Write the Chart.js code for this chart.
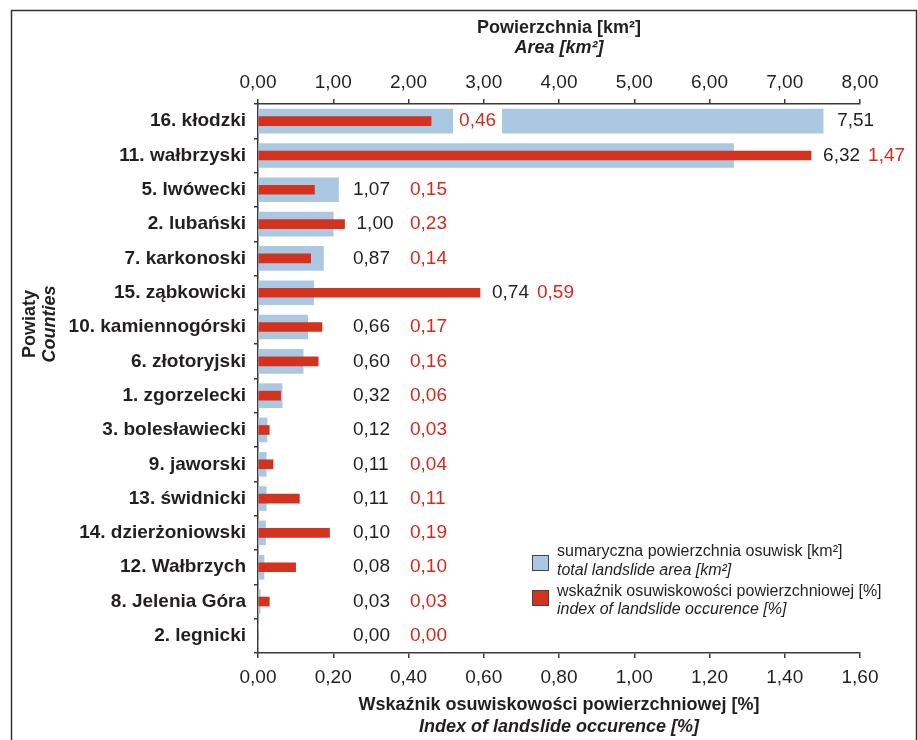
<!DOCTYPE html>
<html>
<head>
<meta charset="utf-8">
<script src="https://cdn.jsdelivr.net/npm/chart.js@4"></script>
<style>
  html, body { margin: 0; padding: 0; background: #fff; }
  #wrap { width: 918px; height: 740px; }
</style>
</head>
<body>
<div id="wrap"><canvas id="chart" width="918" height="740"></canvas></div>
<script>
// ---------- data ----------
const countyLabels = [
  "16. kłodzki", "11. wałbrzyski", "5. lwówecki", "2. lubański", "7. karkonoski",
  "15. ząbkowicki", "10. kamiennogórski", "6. złotoryjski", "1. zgorzelecki",
  "3. bolesławiecki", "9. jaworski", "13. świdnicki", "14. dzierżoniowski",
  "12. Wałbrzych", "8. Jelenia Góra", "2. legnicki"
];
const areaKm2  = [7.51, 6.32, 1.07, 1.00, 0.87, 0.74, 0.66, 0.60, 0.32, 0.12, 0.11, 0.11, 0.10, 0.08, 0.03, 0.00];
const indexPct = [0.46, 1.47, 0.15, 0.23, 0.14, 0.59, 0.17, 0.16, 0.06, 0.03, 0.04, 0.11, 0.19, 0.10, 0.03, 0.00];

// axis ranges (tick labels come from min/max/step)
const areaMax = 8, areaStep = 1;
const indexMax = 1.6, indexStep = 0.2;

// texts
const topTitle    = ["Powierzchnia [km²]", "Area [km²]"];
const bottomTitle = ["Wskaźnik osuwiskowości powierzchniowej [%]", "Index of landslide occurence [%]"];
const sideTitle   = ["Powiaty", "Counties"];
const legendItems = [
  ["sumaryczna powierzchnia osuwisk [km²]", "total landslide area [km²]"],
  ["wskaźnik osuwiskowości powierzchniowej [%]", "index of landslide occurence [%]"]
];

// ---------- style ----------
const FONT = "'Liberation Sans', Arial, Helvetica, sans-serif";
const INK = "#231f20";
const AXIS = "#3a3a3a";
const BLUE = "#abc8e2";
const RED = "#d3321f";
const RED_TXT = "#d42a1c";

const fmt = v => Number(v).toFixed(2).replace(".", ",");

// value labels, titles, legend, frame
const decor = {
  id: "decor",
  afterDatasetsDraw(chart) {
    const { ctx } = chart;
    const ys = chart.scales.y, xa = chart.scales.xArea, xi = chart.scales.xIndex;
    ctx.save();
    ctx.font = `19px ${FONT}`;
    ctx.textBaseline = "middle";
    ctx.textAlign = "left";
    countyLabels.forEach((_, i) => {
      const cy = ys.getPixelForValue(i);
      const blueEnd = xa.getPixelForValue(areaKm2[i]);
      const redEnd = xi.getPixelForValue(indexPct[i]);
      const aTxt = fmt(areaKm2[i]), iTxt = fmt(indexPct[i]);
      const aW = ctx.measureText(aTxt).width, iW = ctx.measureText(iTxt).width;
      let ax, ix;
      if (blueEnd - redEnd > iW + 80) {
        // long area bar: index label goes into a white gap cut in the bar
        ix = redEnd + 28;
        ctx.fillStyle = "#fff";
        ctx.fillRect(ix - 6, cy - 13, iW + 12, 26);
        ax = blueEnd + 14;
      } else {
        ax = Math.max(353, Math.max(blueEnd, redEnd) + 12);
        ix = Math.max(410, ax + aW + 8);
      }
      ctx.fillStyle = INK;
      ctx.fillText(aTxt, ax, cy);
      ctx.fillStyle = RED_TXT;
      ctx.fillText(iTxt, ix, cy);
    });
    ctx.restore();
  },
  afterDraw(chart) {
    const { ctx, chartArea: ca } = chart;
    const cx = (ca.left + ca.right) / 2;
    ctx.save();
    ctx.fillStyle = INK;
    ctx.textAlign = "center";
    ctx.textBaseline = "middle";

    ctx.font = `bold 18px ${FONT}`;
    ctx.fillText(topTitle[0], cx, 28);
    ctx.fillText(bottomTitle[0], cx, 705);
    ctx.font = `italic bold 18px ${FONT}`;
    ctx.fillText(topTitle[1], cx, 48);
    ctx.fillText(bottomTitle[1], cx, 727);

    // rotated y title
    ctx.save();
    ctx.translate(0, 324);
    ctx.rotate(-Math.PI / 2);
    ctx.font = `bold 18px ${FONT}`;
    ctx.fillText(sideTitle[0], 0, 30);
    ctx.font = `italic bold 18px ${FONT}`;
    ctx.fillText(sideTitle[1], 0, 50);
    ctx.restore();

    // legend
    const boxCols = [BLUE, RED];
    const boxTop = [555, 590];
    const lineY = [[552, 571], [592, 610]];
    ctx.textAlign = "left";
    legendItems.forEach((it, k) => {
      ctx.fillStyle = boxCols[k];
      ctx.fillRect(532, boxTop[k], 16, 15);
      ctx.strokeStyle = "#444";
      ctx.lineWidth = 1;
      ctx.strokeRect(532.5, boxTop[k] + 0.5, 16, 15);
      ctx.fillStyle = INK;
      ctx.font = `16px ${FONT}`;
      ctx.fillText(it[0], 557, lineY[k][0]);
      ctx.font = `italic 16px ${FONT}`;
      ctx.fillText(it[1], 557, lineY[k][1]);
    });

    // frame
    ctx.strokeStyle = "#333";
    ctx.lineWidth = 1.5;
    ctx.beginPath();
    ctx.moveTo(11.5, 745);
    ctx.lineTo(11.5, 10.5);
    ctx.lineTo(916.5, 10.5);
    ctx.lineTo(916.5, 745);
    ctx.stroke();
    ctx.restore();
  }
};

const tickFont = { family: FONT, size: 19 };

new Chart(document.getElementById("chart"), {
  type: "bar",
  data: {
    labels: countyLabels,
    datasets: [
      { label: legendItems[1][0], data: indexPct, xAxisID: "xIndex", yAxisID: "y",
        backgroundColor: RED, borderWidth: 0, barThickness: 9, grouped: false, order: 0 },
      { label: legendItems[0][0], data: areaKm2, xAxisID: "xArea", yAxisID: "y",
        backgroundColor: BLUE, borderWidth: 0, barThickness: 24, grouped: false, order: 1 }
    ]
  },
  options: {
    responsive: false,
    animation: false,
    indexAxis: "y",
    layout: { padding: { left: 0, right: 58, top: 0, bottom: 0 } },
    plugins: { legend: { display: false }, tooltip: { enabled: false } },
    scales: {
      y: {
        type: "category",
        offset: true,
        grid: { offset: true, drawOnChartArea: false, tickLength: 4, color: AXIS, lineWidth: 1.5 },
        border: { color: AXIS, width: 1.5 },
        ticks: { font: { family: FONT, size: 19, weight: "bold" }, color: INK, padding: 8 },
        afterFit: s => { s.width = 258; }
      },
      xArea: {
        type: "linear", position: "top", min: 0, max: areaMax,
        grid: { drawOnChartArea: false, tickLength: 5, color: AXIS, lineWidth: 1.5 },
        border: { color: AXIS, width: 1.5 },
        ticks: { stepSize: areaStep, font: tickFont, color: INK, padding: 5, maxRotation: 0,
                 callback: v => fmt(v) },
        afterFit: s => { s.height = 104; }
      },
      xIndex: {
        type: "linear", position: "bottom", min: 0, max: indexMax,
        grid: { drawOnChartArea: false, tickLength: 5, color: AXIS, lineWidth: 1.5 },
        border: { color: AXIS, width: 1.5 },
        ticks: { stepSize: indexStep, font: tickFont, color: INK, padding: 8, maxRotation: 0,
                 callback: v => fmt(v) },
        afterFit: s => { s.height = 87; }
      }
    }
  },
  plugins: [decor]
});
</script>
</body>
</html>
